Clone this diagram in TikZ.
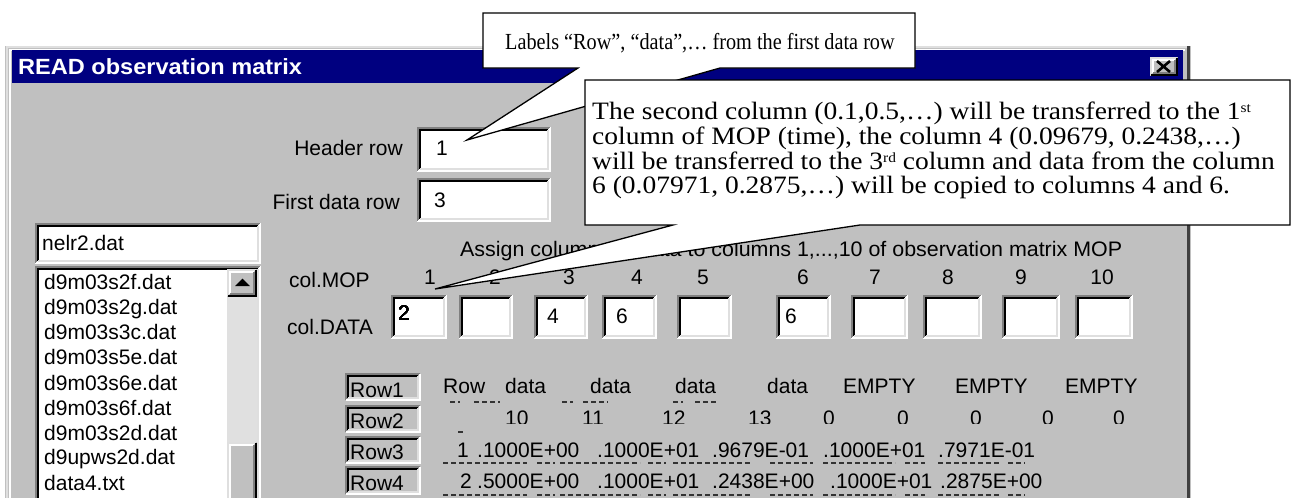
\documentclass[tikz,border=0pt]{standalone}
\usepackage{fontspec}
\setmainfont{Liberation Serif}
\newfontfamily\uifont{Liberation Sans}
\definecolor{wingray}{HTML}{C0C0C0}
\definecolor{winlight}{HTML}{DFDFDF}
\definecolor{windark}{HTML}{808080}
\definecolor{wintitle}{HTML}{000080}
\definecolor{dither}{HTML}{E0E0E0}

% sunken 3D field: x1 y1 x2 y2 fill
\newcommand\winsunken[5]{%
  \fill[#5] (#1,#2) rectangle (#3,#4);
  \draw[windark, line width=2pt] (#1+1,#4-1) -- (#1+1,#2+1) -- (#3-1,#2+1);
  \draw[black, line width=2pt] (#1+3,#4-3) -- (#1+3,#2+3) -- (#3-3,#2+3);
  \draw[white, line width=2pt] (#1+1,#4-1) -- (#3-1,#4-1) -- (#3-1,#2+1);
  \draw[winlight, line width=2pt] (#1+3,#4-3) -- (#3-3,#4-3) -- (#3-3,#2+3);
}
% raised 3D button: x1 y1 x2 y2
\newcommand\winraised[4]{%
  \fill[wingray] (#1,#2) rectangle (#3,#4);
  \draw[winlight, line width=2pt] (#1+1,#4-1) -- (#1+1,#2+1) -- (#3-1,#2+1);
  \draw[white, line width=2pt] (#1+3,#4-3) -- (#1+3,#2+3) -- (#3-3,#2+3);
  \draw[black, line width=2pt] (#1+1,#4-1) -- (#3-1,#4-1) -- (#3-1,#2+1);
  \draw[windark, line width=2pt] (#1+3,#4-3) -- (#3-3,#4-3) -- (#3-3,#2+3);
}
% callout text lines, slightly widened / narrowed
\newcommand\wide[1]{\scalebox{1.1}[1]{#1}}
\newcommand\narrow[1]{\scalebox{0.88}[1]{#1}}
% ordinal suffix kept within the cap height
\newcommand\ordsuf[1]{\raisebox{7pt}{\fontsize{14}{14}\selectfont #1}}

\tikzset{
  ui/.style={inner sep=0pt, font=\uifont\fontsize{21}{25}\selectfont, text=black},
  note/.style={inner sep=0pt, font=\fontsize{23}{25}\selectfont, text=black},
  notebig/.style={inner sep=0pt, font=\fontsize{25}{25}\selectfont, text=black},
  calloutline/.style={draw=black, line width=1.3pt, fill=white, line join=miter},
  ghost/.style={draw=black!80, line width=1.8pt, dash pattern=on 5pt off 3pt},
}

\begin{document}
\begin{tikzpicture}[x=1pt, y=-1pt]
\useasboundingbox (0,0) rectangle (1296,498);

% dialog window frame and body
\fill[wingray] (5,46) rectangle (1191,520);
\draw[winlight, line width=2pt] (7,520) -- (7,47) -- (1189,47);
\draw[white, line width=2pt] (10,520) -- (10,49.5) -- (1185,49.5);
\draw[black!75, line width=3pt] (1188.5,46) -- (1188.5,520);

% title bar
\fill[wintitle] (12,50) rectangle (1183,83);
\node[anchor=base west, inner sep=0pt, text=white,
      font=\uifont\bfseries\fontsize{22}{26}\selectfont] (title) at (18,74)
  {\scalebox{1.07}[1]{READ observation matrix}};
\winraised{1150}{57}{1178}{76}
\draw[black, line width=2.6pt] (1157,61) -- (1170,72) (1170,61) -- (1157,72);

% header / first data row fields
\node[ui, anchor=base east] (hdrlbl) at (403,155) {Header row};
\node[ui, anchor=base east] (firstlbl) at (400,209) {First data row};
\winsunken{417}{127}{551}{172}{white}
\winsunken{417}{178}{551}{222}{white}
\node[ui, anchor=base west] (hdrval) at (436,155) {1};
\node[ui, anchor=base west] (firstval) at (434,207) {3};

% file name field and file list
\winsunken{35}{223}{261}{264}{white}
\node[ui, anchor=base west] (fname) at (42,250) {nelr2.dat};
\winsunken{35}{266}{261}{520}{white}
\winraised{227}{269}{257}{297}
\fill[black] (235,286) -- (250,286) -- (242.5,278.5) -- cycle;
\fill[dither] (227,297) rectangle (257,442);
\winraised{227}{442}{257}{520}
\foreach \f/\yb [count=\i] in {d9m03s2f.dat/289, d9m03s2g.dat/314, d9m03s3c.dat/339,
    d9m03s5e.dat/364, d9m03s6e.dat/390, d9m03s6f.dat/415, d9m03s2d.dat/440,
    d9upws2d.dat/464, data4.txt/490}
  \node[ui, anchor=base west] (file\i) at (44,\yb) {\f};

% column assignment
\node[ui, anchor=base west] (assign) at (460,256)
  {\scalebox{1.02}[1]{Assign columns of data to columns 1,...,10 of observation matrix MOP}};
\node[ui, anchor=base west] (colmop) at (289,287) {col.MOP};
\node[ui, anchor=base west] (coldata) at (287,334) {col.DATA};
\foreach \n/\cx in {1/430, 2/495, 3/569, 4/637, 5/703, 6/803, 7/875, 8/948, 9/1021, 10/1102}
  \node[ui, anchor=base] (mop\n) at (\cx,284) {\n};
\foreach \a/\b in {391/447, 459/513, 534/588, 602/657, 677/732, 776/831,
                   851/908, 923/982, 1002/1060, 1075/1133}
  \winsunken{\a}{295}{\b}{339}{white}
\node[ui, anchor=base west] (dat1) at (398,320) {2};
\node[ui, anchor=base west] (dat3) at (547,323) {4};
\node[ui, anchor=base west] (dat4) at (616,323) {6};
\node[ui, anchor=base west] (dat6) at (785,323) {6};

% row preview labels
\foreach \r/\ya/\yb/\yt in {1/373/401/397, 2/405/433/428, 3/436/464/459, 4/466/495/490} {
  \winsunken{345}{\ya}{421}{\yb}{wingray}
  \node[ui, anchor=base west] (rowlbl\r) at (350,\yt) {Row\r};
}

% row 1 contents
\node[ui, anchor=base west] (r1a) at (443,393) {Row};
\foreach \cx [count=\i] in {505, 590, 675, 767}
  \node[ui, anchor=base west] (r1d\i) at (\cx,393) {data};
\foreach \cx [count=\i] in {843, 955, 1065}
  \node[ui, anchor=base west] (r1e\i) at (\cx,393) {EMPTY};
\foreach \a/\b in {450/460, 474/500, 562/573, 583/608, 673/683, 695/717}
  \draw[ghost] (\a,402) -- (\b,402);

% row 2 contents, clipped at the bottom of the line
\begin{scope}
  \clip (430,400) rectangle (1140,423);
  \foreach \v/\cx [count=\i] in {10/505, 11/582, 12/662, 13/748, 0/823, 0/897, 0/970, 0/1042, 0/1113}
    \node[ui, anchor=base west] (r2v\i) at (\cx,425.5) {\v};
\end{scope}
\draw[ghost] (458,432) -- (464,432);

% row 3 contents
\foreach \v/\cx [count=\i] in {1/457, .1000E+00/477, .1000E+01/597, .9679E-01/712,
                              .1000E+01/823, .7971E-01/938}
  \node[ui, anchor=base west] (r3v\i) at (\cx,457) {\v};
% row 4 contents
\foreach \v/\cx [count=\i] in {2/460, .5000E+00/477, .1000E+01/597, .2438E+00/712,
                              .1000E+01/830, .2875E+00/940}
  \node[ui, anchor=base west] (r4v\i) at (\cx,488) {\v};
\foreach \yy in {463, 495}
  \foreach \a/\b in {443/527, 537/555, 560/640, 648/666, 673/752, 770/813,
                     823/895, 905/925, 938/1000, 1008/1025}
    \draw[ghost] (\a,\yy) -- (\b,\yy);

% callout about the header row
\coordinate (tipA) at (467,140);
\draw[calloutline] (483,13) -- (915,13) -- (915,68) -- (720,68) -- (tipA)
  -- (578,68) -- (483,68) -- cycle;
\node[note, anchor=base west] (noteA) at (505,49)
  {\narrow{Labels “Row”, “data”,… from the first data row}};

% callout about the column assignment
\coordinate (tipB) at (435,289);
\draw[calloutline] (585,80) -- (1290,80) -- (1290,225) -- (860,225) -- (tipB)
  -- (673,225) -- (585,225) -- cycle;
\node[notebig, anchor=base west] (noteB1) at (592,119)
  {\wide{The second column (0.1,0.5,…) will be transferred to the 1\ordsuf{st}}};
\node[notebig, anchor=base west] (noteB2) at (592,144)
  {\wide{column of MOP (time), the column 4 (0.09679, 0.2438,…)}};
\node[notebig, anchor=base west] (noteB3) at (592,169)
  {\wide{will be transferred to the 3\ordsuf{rd} column and data from the column}};
\node[notebig, anchor=base west] (noteB4) at (592,193)
  {\wide{6 (0.07971, 0.2875,…) will be copied to columns 4 and 6.}};
\end{tikzpicture}
\end{document}
